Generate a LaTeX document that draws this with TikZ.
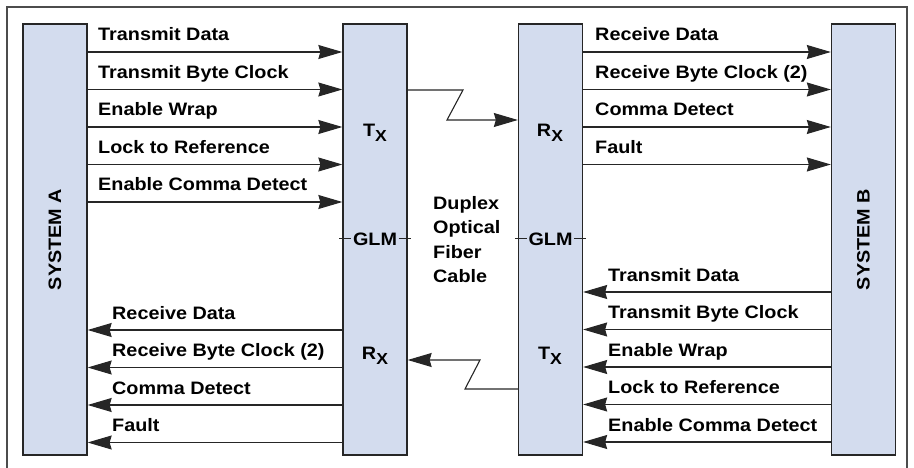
\documentclass[tikz,border=0pt]{standalone}
\usepackage{fontspec}
\setmainfont{Liberation Sans}[FakeStretch=1.1]
\usetikzlibrary{arrows.meta}
\definecolor{boxblue}{RGB}{211,220,238}
\tikzset{
  unit/.style={draw=black!85, line width=1.3pt, fill=boxblue, minimum width=64pt, minimum height=431pt, inner sep=0pt},
  sig/.style={draw=black!85, line width=1.1pt, -{Stealth[length=24pt,width=14pt,inset=2pt]}},
  lbl/.style={font=\fontsize{18}{18}\selectfont\bfseries, inner sep=0pt},
}
\newcommand{\subx}{\raisebox{-5pt}{\fontsize{16}{16}\selectfont X}}
\begin{document}
\begin{tikzpicture}[x=1pt,y=-1pt]
        \useasboundingbox (0,0) rectangle (914,468);
        \draw[black!70, line width=1.5pt] (7,468) -- (7,7) -- (907,7) -- (907,468);
        % the four units
        \node[unit] (sysA) at (55,239.5) {};
        \node[unit] (glmL) at (375,239.5) {};
        \node[unit] (glmR) at (550.5,239.5) {};
        \node[unit] (sysB) at (863.5,239.5) {};
        \node[lbl, rotate=90] (nameA) at (sysA) {SYSTEM A};
        \node[lbl, rotate=90] (nameB) at (sysB) {SYSTEM B};
        \node[lbl, anchor=base] (txL) at (375,137) {T\subx};
        \node[lbl, anchor=base] (rxR) at (550,137) {R\subx};
        \node[lbl, anchor=base] (rxL) at (375,359) {R\subx};
        \node[lbl, anchor=base] (txR) at (550,359) {T\subx};
        \node[lbl, anchor=base, inner sep=1.5pt] (glmLt) at (375,245) {GLM};
        \node[lbl, anchor=base, inner sep=1.5pt] (glmRt) at (550.5,245) {GLM};
        \draw[black!85, line width=1.1pt] (glmL.west |- glmLt) ++(-3,0) -- (glmLt.west);
        \draw[black!85, line width=1.1pt] (glmLt.east) -- (glmL.east |- glmLt) -- ++(3,0);
        \draw[black!85, line width=1.1pt] (glmR.west |- glmRt) ++(-3,0) -- (glmRt.west);
        \draw[black!85, line width=1.1pt] (glmRt.east) -- (glmR.east |- glmRt) -- ++(3,0);
        \node[lbl, align=left, anchor=north west, font=\fontsize{18}{24.5}\selectfont\bfseries] (cable) at (433,196) {Duplex\\Optical\\Fiber\\Cable};
        % fiber links
        \draw[sig] (glmL.east |- 0,90) -- (463,90) -- (447,120) -- (glmR.west |- 0,120);
        \draw[sig] (glmR.west |- 0,389) -- (465,389) -- (480,360) -- (glmL.east |- 0,360);
        % system A side
        \foreach \txt [count=\i, evaluate=\i as \yy using 14.5+37.5*\i] in {Transmit Data, Transmit Byte Clock, Enable Wrap, Lock to Reference, Enable Comma Detect}{
          \draw[sig] (sysA.east |- 0,\yy) -- (glmL.west |- 0,\yy);
          \node[lbl, anchor=base west] (aout\i) at (98,\yy-11) {\txt};
        }
        \foreach \txt [count=\i, evaluate=\i as \yy using 292.5+37.5*\i] in {Receive Data, Receive Byte Clock (2), Comma Detect, Fault}{
          \draw[sig] (glmL.west |- 0,\yy) -- (sysA.east |- 0,\yy);
          \node[lbl, anchor=base west] (ain\i) at (112,\yy-11) {\txt};
        }
        % system B side
        \foreach \txt [count=\i, evaluate=\i as \yy using 14.5+37.5*\i] in {Receive Data, Receive Byte Clock (2), Comma Detect, Fault}{
          \draw[sig] (glmR.east |- 0,\yy) -- (sysB.west |- 0,\yy);
          \node[lbl, anchor=base west] (bin\i) at (595,\yy-11) {\txt};
        }
        \foreach \txt [count=\i, evaluate=\i as \yy using 254.5+37.5*\i] in {Transmit Data, Transmit Byte Clock, Enable Wrap, Lock to Reference, Enable Comma Detect}{
          \draw[sig] (sysB.west |- 0,\yy) -- (glmR.east |- 0,\yy);
          \node[lbl, anchor=base west] (bout\i) at (608,\yy-11) {\txt};
        }
      \end{tikzpicture}
\end{document}
